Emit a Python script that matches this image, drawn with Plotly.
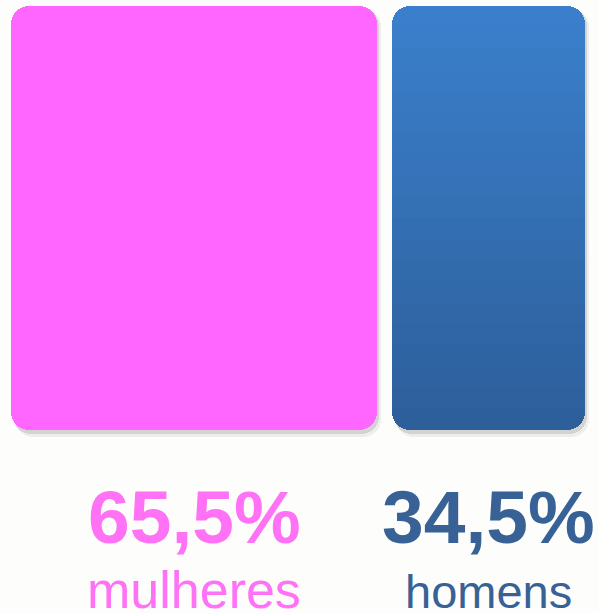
import plotly.graph_objects as go

categorias = ["mulheres", "homens"]
percentuais = [65.5, 34.5]
rotulos = ["65,5%", "34,5%"]

cor_barra = ["#ff66ff", None]
azul_topo = (59, 128, 205)
azul_base = (45, 94, 153)
cor_texto = ["#ff72f6", "#386296"]
tam_nome = [52, 47]

W, H = 599, 614
gap = 2.7                      # espaço entre as caixas (unidades de %)
k = (585 - 11) / (100 + gap)   # px por unidade
py = 424                       # altura da caixa em px
R = 18                         # raio dos cantos

fig = go.Figure()


def caixa(xc, w, cor, y0=0.0, y1=1.0, dx=0.0, cr=R):
    fig.add_trace(go.Bar(x=[xc + dx], y=[y1 - y0], base=[y0], width=[w],
                         marker=dict(color=cor, line_width=0, cornerradius=cr),
                         hoverinfo="skip", showlegend=False))


centros, x = [], 0.0
for p in percentuais:
    centros.append(x + p / 2)
    x += p + gap

# sombras
for i, p in enumerate(percentuais):
    caixa(centros[i], p, "rgba(0,0,0,0.06)", -7 / py, 1 - 3 / py, dx=4 / k)
    caixa(centros[i], p, "rgba(0,0,0,0.11)", -4 / py, 1 - 2 / py, dx=2 / k)

# mulheres: cor sólida
caixa(centros[0], percentuais[0], cor_barra[0])

# homens: degradê vertical em fatias
n = 20
h = 1 / n


def tom(t):
    return "rgb(%d,%d,%d)" % tuple(round(azul_base[m] + (azul_topo[m] - azul_base[m]) * t) for m in range(3))


caixa(centros[1], percentuais[1], tom(0.5 / n), 0, 3 * h)
caixa(centros[1], percentuais[1], tom(1 - 0.5 / n), 1 - 3 * h, 1)
for j in range(1, n - 1):
    caixa(centros[1], percentuais[1], tom((j + 0.5) / n), j * h, (j + 1.15) * h, cr=0)

for i in range(len(categorias)):
    fig.add_annotation(x=centros[i], y=1 - (543 - 0.35 * 75) / H, xref="x", yref="paper",
                       text="<b>%s</b>" % rotulos[i], showarrow=False, yanchor="middle",
                       font=dict(family="Liberation Sans, Arial", size=75, color=cor_texto[i]))
    fig.add_annotation(x=centros[i], y=1 - (608 - 0.35 * tam_nome[i]) / H, xref="x", yref="paper",
                       text=categorias[i], showarrow=False, yanchor="middle",
                       font=dict(family="Liberation Sans, Arial", size=tam_nome[i], color=cor_texto[i]))

fig.update_layout(
    width=W, height=H, margin=dict(l=0, r=0, t=0, b=0),
    barmode="overlay", bargap=0,
    paper_bgcolor="#fdfdfb", plot_bgcolor="#fdfdfb",
    xaxis=dict(range=[-11 / k, (W - 11) / k], visible=False, fixedrange=True),
    yaxis=dict(range=[-(H - 430) / py, 1 + 6 / py], visible=False, fixedrange=True),
)

fig.write_html("out.html", config={"displayModeBar": False},
               post_script="document.body.style.margin='0';document.body.style.overflow='hidden';")
